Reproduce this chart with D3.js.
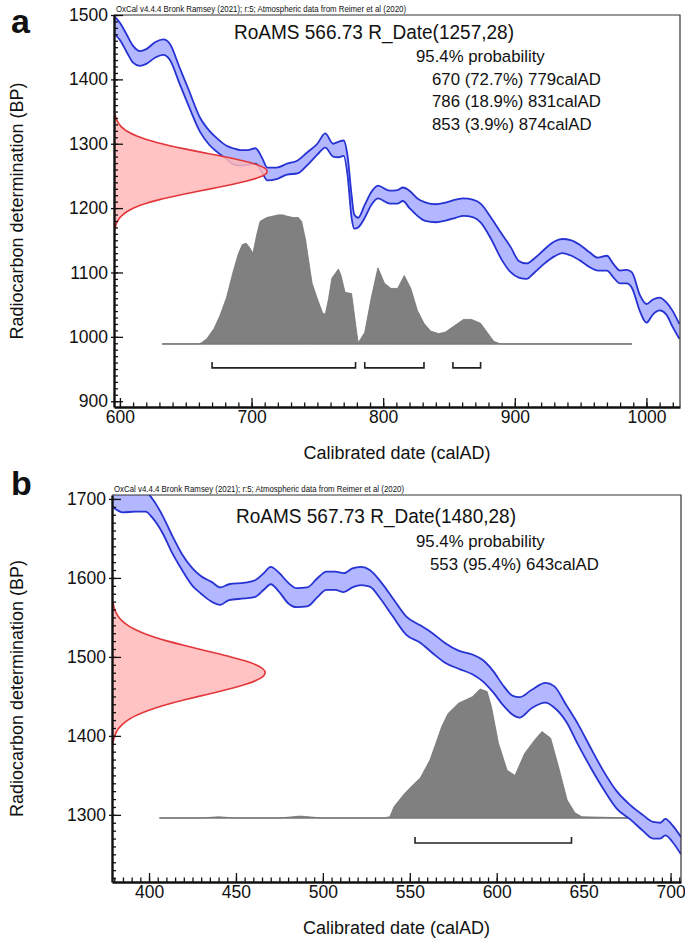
<!DOCTYPE html>
<html><head><meta charset="utf-8">
<script src="https://cdn.jsdelivr.net/npm/d3@7"></script>
<style>
body{margin:0;background:#fff}
text{font-family:"Liberation Sans",Arial,Helvetica,sans-serif;fill:#111}
</style>
</head><body>
<svg id="c" width="685" height="946"></svg>
<script>
// ---------------- DATA ----------------
const headerText = "OxCal v4.4.4 Bronk Ramsey (2021); r:5; Atmospheric data from Reimer et al (2020)";
const xTitle = "Calibrated date (calAD)";
const yTitle = "Radiocarbon determination (BP)";

// Panel a
const aLetter = "a";
const aTitle = "RoAMS 566.73 R_Date(1257,28)";
const aLines = ["95.4% probability", "670 (72.7%) 779calAD", "786 (18.9%) 831calAD", "853 (3.9%) 874calAD"];
const aMean = 1257, aSd = 28;
const aXTicks = [600, 700, 800, 900, 1000];
const aYTicks = [900, 1000, 1100, 1200, 1300, 1400, 1500];
const aBandYear = [595,600,605,610,615,620,627,633,638,645,652,661,668,674,681,686,692,697,703,708,712,719,727,735,742,750,756,762,766,770,773,776,778,781,786,791,796,805,811,815,820,826,832,840,848,855,861,868,874,882,890,897,903,909,915,922,930,936,943,950,957,963,970,975,980,985,989,995,1000,1005,1010,1015,1020,1025];
const aBandTop = [1499,1488,1470,1452,1444,1447,1458,1462,1455,1420,1385,1340,1320,1308,1297,1293,1290,1290,1293,1278,1263,1263,1269,1274,1286,1300,1316,1300,1303,1305,1280,1220,1190,1185,1205,1225,1235,1227,1228,1232,1227,1215,1209,1206,1209,1213,1215,1213,1207,1185,1160,1139,1118,1114,1122,1135,1148,1152,1150,1142,1131,1123,1126,1113,1103,1104,1100,1065,1051,1058,1061,1054,1040,1020];
const aBandBot = [1472,1461,1443,1426,1421,1424,1434,1438,1430,1395,1360,1318,1298,1287,1276,1268,1266,1267,1269,1255,1243,1245,1252,1254,1266,1283,1294,1280,1279,1281,1250,1185,1168,1170,1185,1205,1215,1207,1207,1211,1200,1188,1180,1178,1181,1185,1188,1186,1178,1152,1120,1100,1092,1090,1100,1113,1125,1130,1126,1118,1108,1103,1103,1092,1083,1083,1076,1040,1022,1035,1041,1035,1015,997];
const aHistYear = [632,660,662,666,671.5,676,681,686,690,693,696,699,701,704,706.5,711.5,716,720,724,727,731.5,735.5,738,741,744.5,746,750,754,756,758.5,761,766,768,771,776,779.5,781,783,786,791,796,801,806,811,816,821,826,831,836,842,847,854,861,867,874,879,884,889,989];
const aHistProb = [0,0,0.01,0.04,0.12,0.22,0.36,0.56,0.70,0.77,0.78,0.74,0.70,0.85,0.95,0.98,0.99,1.00,1.00,0.99,0.98,0.98,0.95,0.81,0.57,0.47,0.35,0.24,0.23,0.35,0.51,0.58,0.53,0.40,0.39,0.12,0.01,0.04,0.09,0.36,0.59,0.47,0.43,0.43,0.53,0.43,0.26,0.16,0.10,0.08,0.09,0.14,0.19,0.19,0.16,0.09,0.02,0,0];
const aRanges = [[670, 779], [786, 831], [853, 874]];

// Panel b
const bLetter = "b";
const bTitle = "RoAMS 567.73 R_Date(1480,28)";
const bLines = ["95.4% probability", "553 (95.4%) 643calAD"];
const bMean = 1480, bSd = 28;
const bXTicks = [400, 450, 500, 550, 600, 650, 700];
const bYTicks = [1300, 1400, 1500, 1600, 1700];
const bBandYear = [379,385,392,398,402,408,413,419,425,430,436,441,446,455,461,466,470,475,480,485,491,497,502,507,512,517,522,527,533,540,548,556,563,570,578,586,592,598,604,609,613,620,628,633,640,647,654,661,669,677,684,690,694,697,701,706];
const bBandTop = [1708,1707,1707,1709,1700,1678,1655,1630,1612,1602,1595,1588,1592,1594,1597,1606,1614,1606,1594,1587,1588,1600,1608,1608,1606,1612,1614,1610,1596,1575,1551,1540,1530,1518,1508,1503,1496,1482,1463,1451,1449,1458,1467,1463,1439,1414,1385,1357,1330,1312,1300,1291,1290,1295,1287,1272];
const bBandBot = [1690,1683,1684,1684,1676,1656,1633,1610,1590,1580,1570,1566,1572,1574,1576,1585,1592,1582,1568,1563,1564,1576,1585,1585,1582,1588,1591,1589,1574,1552,1528,1518,1505,1493,1485,1478,1469,1455,1438,1427,1423,1435,1442,1436,1418,1388,1360,1334,1308,1294,1280,1270,1270,1274,1266,1250];
const bHistYear = [406,430,440,450,475,487,500,535,538.5,541,547,552,556,561.6,565,568.4,572,578,586,590.5,594.5,597,601,606,610.5,616,621.5,626,631,635.5,640.5,645,649,678];
const bHistProb = [0,0,0.01,0,0,0.015,0,0,0.01,0.09,0.19,0.26,0.31,0.45,0.58,0.71,0.81,0.89,0.94,1.00,0.98,0.86,0.58,0.37,0.33,0.50,0.60,0.67,0.62,0.40,0.14,0.04,0.01,0];
const bRanges = [[553, 643]];

// Radiocarbon measurement likelihood (relative density vs BP offset from the mean)
const gaussOffset = [-90,-85,-80,-75,-70,-65,-60,-55,-50,-45,-40,-35,-30,-25,-20,-15,-10,-5,0,5,10,15,20,25,30,35,40,45,50,55,60,65,70,75,80,85,90];
const gaussDensity = [0.006,0.010,0.017,0.028,0.044,0.068,0.101,0.145,0.203,0.275,0.360,0.458,0.563,0.671,0.775,0.866,0.938,0.984,1,0.984,0.938,0.866,0.775,0.671,0.563,0.458,0.360,0.275,0.203,0.145,0.101,0.068,0.044,0.028,0.017,0.010,0.006];

// ---------------- DRAW ----------------
const svg = d3.select("#c");

function drawPanel(p) {
  const x = d3.scaleLinear().domain(p.xDomain).range([p.left, p.right]);
  const y = d3.scaleLinear().domain(p.yDomain).range([p.bottom, p.top]);
  const g = svg.append("g");
  const clipId = "clip" + p.id;
  g.append("clipPath").attr("id", clipId).append("rect")
    .attr("x", p.left).attr("y", p.top).attr("width", p.right - p.left).attr("height", p.bottom - p.top);
  const plot = g.append("g").attr("clip-path", `url(#${clipId})`);

  // histogram (posterior)
  const hist = p.histYear.map((yr, i) => ({yr, v: p.histProb[i]}));
  const baseY = y(p.baseBP);
  const hScale = d3.scaleLinear().domain([0, 1]).range([baseY, baseY - p.histH]);
  plot.append("line")
    .attr("x1", x(p.histYear[0])).attr("x2", x(p.histYear[p.histYear.length - 1]))
    .attr("y1", baseY).attr("y2", baseY)
    .attr("stroke", "#b3b3b3").attr("stroke-width", 2);
  plot.append("path").datum(hist)
    .attr("d", d3.area().x(d => x(d.yr)).y0(baseY).y1(d => hScale(d.v)))
    .attr("fill", "#808080").attr("stroke", "#747474").attr("stroke-width", 0.8);

  // brackets
  const brY = baseY + p.bracketOff;
  p.ranges.forEach(r => {
    const x0 = x(r[0]), x1 = x(r[1]);
    plot.append("path")
      .attr("d", `M${x0},${brY - 6}V${brY}H${x1}V${brY - 6}`)
      .attr("fill", "none").attr("stroke", "#222").attr("stroke-width", 1.6);
  });

  // calibration curve band
  const band = p.bandYear.map((yr, i) => ({yr, t: p.bandTop[i], b: p.bandBot[i]}));
  plot.append("path").datum(band)
    .attr("d", d3.area().x(d => x(d.yr)).y0(d => y(d.b)).y1(d => y(d.t)).curve(d3.curveMonotoneX))
    .attr("fill", "#b2b7ff");
  [d => d.t, d => d.b].forEach(acc => {
    plot.append("path").datum(band)
      .attr("d", d3.line().x(d => x(d.yr)).y(d => y(acc(d))).curve(d3.curveMonotoneX))
      .attr("fill", "none").attr("stroke", "#2632d2").attr("stroke-width", 1.8);
  });

  // measurement likelihood
  const gd = gaussOffset.map((o, i) => ({bp: p.mean + o * p.sd / 28, den: gaussDensity[i]}));
  const dScale = d3.scaleLinear().domain([0, 1]).range([p.left, p.left + p.gaussAmp]);
  plot.append("path").datum(gd)
    .attr("d", d3.area().y(d => y(d.bp)).x0(p.left).x1(d => dScale(d.den)).curve(d3.curveBasis))
    .attr("fill", "#ffb9b9").attr("fill-opacity", 0.85);
  plot.append("path").datum(gd)
    .attr("d", d3.line().y(d => y(d.bp)).x(d => dScale(d.den)).curve(d3.curveBasis))
    .attr("fill", "none").attr("stroke", "#e2363a").attr("stroke-width", 1.6);

  // frame
  g.append("path")
    .attr("d", `M${p.left},${p.top}H${p.right}V${p.bottom}`)
    .attr("fill", "none").attr("stroke", "#333").attr("stroke-width", 1.2);

  // axes
  const minorX = d3.range(Math.ceil(p.xDomain[0] / p.xMinor) * p.xMinor, p.xDomain[1], p.xMinor);
  const minorY = d3.range(Math.ceil(p.yDomain[0] / p.yMinor) * p.yMinor, p.yDomain[1] + 0.1, p.yMinor);
  const axX = g.append("g").attr("transform", `translate(0,${p.bottom})`);
  axX.call(d3.axisBottom(x).tickValues(minorX).tickSize(-4.5).tickFormat(""));
  axX.call(g2 => g2.selectAll(".domain").remove());
  const axX2 = g.append("g").attr("transform", `translate(0,${p.bottom})`)
    .call(d3.axisBottom(x).tickValues(p.xTicks).tickSizeInner(-9).tickSizeOuter(0).tickPadding(4).tickFormat(d3.format("d")));
  const axY = g.append("g").attr("transform", `translate(${p.left},0)`);
  axY.call(d3.axisLeft(y).tickValues(minorY).tickSize(-4).tickFormat(""));
  axY.call(g2 => g2.selectAll(".domain").remove());
  const axY2 = g.append("g").attr("transform", `translate(${p.left},0)`)
    .call(d3.axisLeft(y).tickValues(p.yTicks).tickSizeInner(-9).tickSizeOuter(0).tickPadding(6).tickFormat(d3.format("d")));
  g.selectAll(".tick line").attr("stroke", "#111").attr("stroke-width", 1.3);
  [axX2, axY2].forEach(a => {
    a.select(".domain").attr("stroke", "#111").attr("stroke-width", 2.4);
    a.selectAll("text").attr("font-size", 17.5).attr("fill", "#111")
      .style("font-family", '"Liberation Sans", Arial, sans-serif');
  });
  axY2.selectAll(".tick line").attr("x1", -3);

  // texts
  g.append("text").attr("x", p.left + 2).attr("y", p.top - 3.5)
    .attr("font-size", 9).attr("fill", "#333")
    .attr("textLength", 290).attr("lengthAdjust", "spacingAndGlyphs").text(headerText);
  g.append("text").attr("x", p.letterX).attr("y", p.letterY)
    .attr("font-size", 34).attr("font-weight", "bold").attr("fill", "#000").text(p.letter);
  g.append("text").attr("x", p.titleX).attr("y", p.titleY).attr("text-anchor", "middle")
    .attr("font-size", 20.5).attr("textLength", 280).attr("lengthAdjust", "spacingAndGlyphs").text(p.title);
  p.lines.forEach((t, i) => {
    g.append("text").attr("x", i === 0 ? p.lineX0 : p.lineX).attr("y", p.lineY + i * p.lineDy)
      .attr("font-size", 16.8).text(t);
  });
  g.append("text").attr("x", (p.left + p.right) / 2).attr("y", p.bottom + 52)
    .attr("text-anchor", "middle").attr("font-size", 18).text(xTitle);
  g.append("text").attr("transform", `translate(23,${(p.top + p.bottom) / 2}) rotate(-90)`)
    .attr("text-anchor", "middle").attr("font-size", 18).text(yTitle);
}

drawPanel({
  id: "a", left: 114, right: 680, top: 15, bottom: 407,
  xDomain: [595.5, 1025.5], yDomain: [891, 1500],
  xTicks: aXTicks, yTicks: aYTicks, xMinor: 10, yMinor: 10,
  bandYear: aBandYear, bandTop: aBandTop, bandBot: aBandBot,
  histYear: aHistYear, histProb: aHistProb, baseBP: 989, histH: 129, bracketOff: 24,
  ranges: aRanges, mean: aMean, sd: aSd, gaussAmp: 154,
  letter: aLetter, letterX: 11, letterY: 33,
  title: aTitle, titleX: 374, titleY: 39,
  lines: aLines, lineX0: 416, lineX: 432, lineY: 62, lineDy: 22.5
});

drawPanel({
  id: "b", left: 112, right: 681, top: 495, bottom: 882,
  xDomain: [378.7, 706], yDomain: [1215, 1705],
  xTicks: bXTicks, yTicks: bYTicks, xMinor: 5, yMinor: 10,
  bandYear: bBandYear, bandTop: bBandTop, bandBot: bBandBot,
  histYear: bHistYear, histProb: bHistProb, baseBP: 1296, histH: 129, bracketOff: 25,
  ranges: bRanges, mean: bMean, sd: bSd, gaussAmp: 154,
  letter: bLetter, letterX: 11, letterY: 495,
  title: bTitle, titleX: 376, titleY: 523,
  lines: bLines, lineX0: 416, lineX: 430, lineY: 547, lineDy: 23
});
</script>
</body></html>
